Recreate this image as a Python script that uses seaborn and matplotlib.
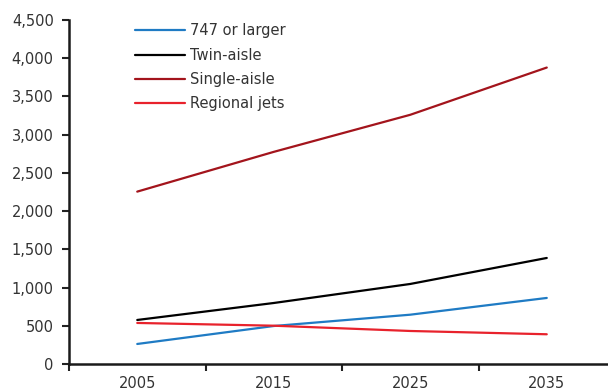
import matplotlib
matplotlib.use("Agg")
import matplotlib.pyplot as plt
import matplotlib.ticker as mticker
import seaborn as sns
import pandas as pd

# Fleet size by aircraft class
years = [2005, 2015, 2025, 2035]
series_names = ["747 or larger", "Twin-aisle", "Single-aisle", "Regional jets"]
large_747 = [262, 497, 645, 864]
twin_aisle = [576, 798, 1047, 1387]
single_aisle = [2255, 2775, 3260, 3878]
regional_jets = [537, 501, 432, 389]
colors = ["#1f7bc4", "#000000", "#a3141c", "#e8222c"]

values = [large_747, twin_aisle, single_aisle, regional_jets]
df = pd.DataFrame(
    [(y, name, v) for name, vals in zip(series_names, values) for y, v in zip(years, vals)],
    columns=["year", "series", "value"],
)

sns.set_theme(style="white")
plt.rcParams["font.family"] = ["DejaVu Sans"]

fig = plt.figure(figsize=(6.08, 3.92), dpi=100)
ax = fig.add_axes([69 / 608, 1 - 364 / 392, 546 / 608, 344 / 392])

sns.lineplot(data=df, x="year", y="value", hue="series", hue_order=series_names,
             palette=colors, linewidth=1.6, ax=ax, legend=True)

ax.set_xlim(2000, 2040)
ax.set_ylim(0, 4500)
ax.set_xlabel("")
ax.set_ylabel("")

# y axis: thousands separators, outward ticks
ax.yaxis.set_major_locator(mticker.MultipleLocator(500))
ax.yaxis.set_major_formatter(mticker.FuncFormatter(lambda v, p: f"{int(v):,}"))
ax.tick_params(axis="y", which="major", direction="out", length=5, width=1.5,
               color="#222222", labelsize=10.5, labelcolor="#333333", pad=6, left=True)

# x axis: tick marks between decades, labels centred on data years
ax.xaxis.set_major_locator(mticker.FixedLocator([2000, 2010, 2020, 2030, 2040]))
ax.xaxis.set_major_formatter(mticker.NullFormatter())
ax.xaxis.set_minor_locator(mticker.FixedLocator(years))
ax.xaxis.set_minor_formatter(mticker.FixedFormatter([str(y) for y in years]))
ax.tick_params(axis="x", which="major", direction="out", length=5, width=1.5,
               color="#222222", bottom=True)
ax.tick_params(axis="x", which="minor", length=0, labelsize=10.5,
               labelcolor="#333333", pad=8.5, bottom=True)

for side in ["top", "right"]:
    ax.spines[side].set_visible(False)
for side in ["left", "bottom"]:
    ax.spines[side].set_linewidth(1.8)
    ax.spines[side].set_color("#1a1a1a")

leg = ax.legend(loc="upper left", bbox_to_anchor=(0.097, 1.028), frameon=False,
                fontsize=10.5, handlelength=3.4, handletextpad=0.35,
                labelspacing=0.64, title=None)
for t in leg.get_texts():
    t.set_color("#333333")

fig.savefig("out.png", dpi=100)
